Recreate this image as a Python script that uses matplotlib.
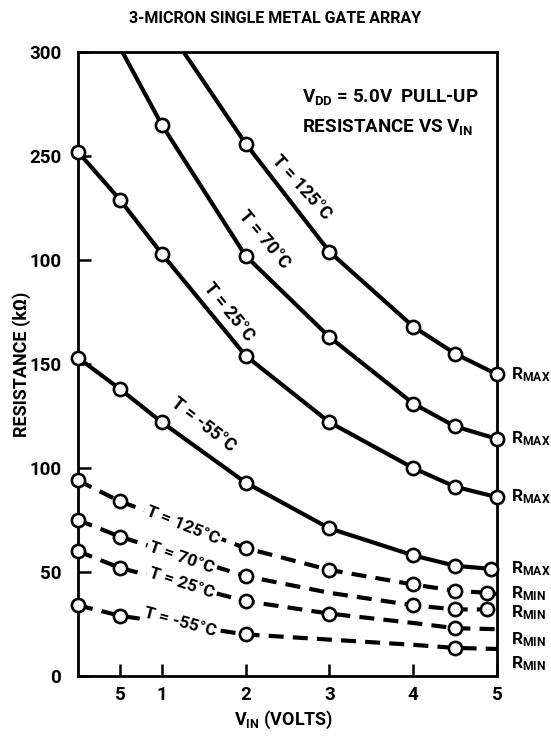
import numpy as np
import matplotlib.pyplot as plt

plt.rcParams['font.family'] = ['Roboto', 'DejaVu Sans']
plt.rcParams['font.weight'] = 'bold'
plt.rcParams['axes.labelweight'] = 'bold'
plt.rcParams['mathtext.default'] = 'regular'

# solid curves: maximum pull-up resistance (kOhm) vs V_IN (volts)
rmax_125_v = [1.26, 2, 3, 4, 4.5, 5]
rmax_125 = [300, 256, 204, 168, 155, 145]
rmax_70_v = [0.53, 1, 2, 3, 4, 4.5, 5]
rmax_70 = [300, 265, 202, 163, 131, 120, 114]
rmax_25_v = [0, 0.5, 1, 2, 3, 4, 4.5, 5]
rmax_25 = [252, 229, 203, 154, 122, 100, 91, 86]
rmax_m55_v = [0, 0.5, 1, 2, 3, 4, 4.5, 4.93]
rmax_m55 = [153, 138, 122, 93, 71, 58, 53, 51.5]

# dashed curves: minimum pull-up resistance
rmin_125_v = [0, 0.5, 2, 3, 4, 4.5, 4.88, 5]
rmin_125 = [94, 84, 61.5, 51, 44, 41, 40, 39.5]
rmin_70_v = [0, 0.5, 2, 3, 4, 4.5, 4.88, 5]
rmin_70 = [75, 67, 48, 40, 34, 32, 32, 31.5]
rmin_25_v = [0, 0.5, 2, 3, 4, 4.5, 5]
rmin_25 = [60, 52, 36, 30, 25.5, 23, 22.5]
rmin_m55_v = [0, 0.5, 2, 3, 4, 4.5, 5]
rmin_m55 = [34, 29, 20, 17.5, 15, 13.5, 13]

# which points carry a circle
rmax_marks = [[1, 2, 3, 4, 5], [1, 2, 3, 4, 5, 6], list(range(8)), list(range(8))]
rmin_marks = [[0, 1, 2, 3, 4, 5, 6], [0, 1, 2, 4, 5, 6], [0, 1, 2, 3, 5], [0, 1, 2, 5]]

x_ticks = [0.5, 1, 2, 3, 4, 5]
x_ticklabels = ['5', '1', '2', '3', '4', '5']
y_ticks = [0, 50, 100, 150, 200, 250, 300]
y_ticklabels = ['0', '50', '100', '150', '100', '250', '300']

fig = plt.figure(figsize=(5.51, 7.38), dpi=100)
ax = fig.add_axes([0.1416, 0.084, 0.7604, 0.8455])

mk = dict(marker='o', markersize=9.5, markerfacecolor='white',
          markeredgecolor='black', markeredgewidth=1.9, color='black',
          lw=3.0, clip_on=False)

solid = [(rmax_125_v, rmax_125), (rmax_70_v, rmax_70),
         (rmax_25_v, rmax_25), (rmax_m55_v, rmax_m55)]
dashed = [(rmin_125_v, rmin_125), (rmin_70_v, rmin_70),
          (rmin_25_v, rmin_25), (rmin_m55_v, rmin_m55)]

for (xv, yv), marks in zip(solid, rmax_marks):
    ax.plot(xv, yv, markevery=marks, solid_capstyle='butt', zorder=3, **mk)
for (xv, yv), marks in zip(dashed, rmin_marks):
    ax.plot(xv, yv, markevery=marks, dashes=(3.6, 2.2), dash_capstyle='butt',
            zorder=3, **mk)

# curve labels
lab = dict(fontsize=13, ha='center', va='center', rotation_mode='anchor')
ax.text(2.67, 235, 'T = 125°C', rotation=-48, **lab)
ax.text(2.22, 210, 'T = 70°C', rotation=-50, **lab)
ax.text(1.80, 175, 'T = 25°C', rotation=-51, **lab)
ax.text(1.50, 121, 'T = -55°C', rotation=-38, **lab)

box = dict(boxstyle='square,pad=0.15', fc='white', ec='none')
lab['fontsize'] = 12.5
ax.text(1.25, 72.6, 'T = 125°C', rotation=-22, bbox=box, zorder=4, **lab)
ax.text(1.24, 57, 'T = 70°C', rotation=-19, bbox=box, zorder=4, **lab)
ax.text(1.24, 44.7, 'T = 25°C', rotation=-18, bbox=box, zorder=4, **lab)
ax.text(1.22, 26, 'T = -55°C', rotation=-15, bbox=box, zorder=4, **lab)

# end labels to the right of the frame
for v in [rmax_125[-1], rmax_70[-1], rmax_25[-1], rmax_m55[-1]]:
    ax.text(5.17, v, r'$R_{MAX}$', fontsize=12.5, va='center', ha='left',
            clip_on=False)
for v, off in zip([rmin_125[-1], rmin_70[-1], rmin_25[-1], rmin_m55[-1]],
                  [0, -1, -5, -7]):
    ax.text(5.17, v + off, r'$R_{MIN}$', fontsize=12.5, va='center', ha='left',
            clip_on=False)

ax.text(0.535, 0.928, r'$V_{DD}$ = 5.0V  PULL-UP', transform=ax.transAxes,
        fontsize=13.5, ha='left', va='center')
ax.text(0.535, 0.880, r'RESISTANCE VS $V_{IN}$', transform=ax.transAxes,
        fontsize=13.5, ha='left', va='center')

ax.set_xlim(0, 5)
ax.set_ylim(0, 300)
ax.set_xticks(x_ticks)
ax.set_xticklabels(x_ticklabels)
ax.set_yticks(y_ticks)
ax.set_yticklabels(y_ticklabels)
ax.tick_params(direction='in', length=9, width=1.8, labelsize=13.5, pad=7)
ax.tick_params(axis='y', pad=12)
for s in ax.spines.values():
    s.set_linewidth(2.0)

ax.set_xlabel('V$_{IN}$ (VOLTS)', fontsize=13, va='center')
ax.set_ylabel('RESISTANCE (kΩ)', fontsize=13, va='center')
ax.xaxis.set_label_coords(0.49, -0.07)
ax.yaxis.set_label_coords(-0.134, 0.5)

fig.text(0.499, 0.975, '3-MICRON SINGLE METAL GATE ARRAY', fontsize=11.5,
         ha='center', va='center')

fig.savefig('out.png', dpi=100)
